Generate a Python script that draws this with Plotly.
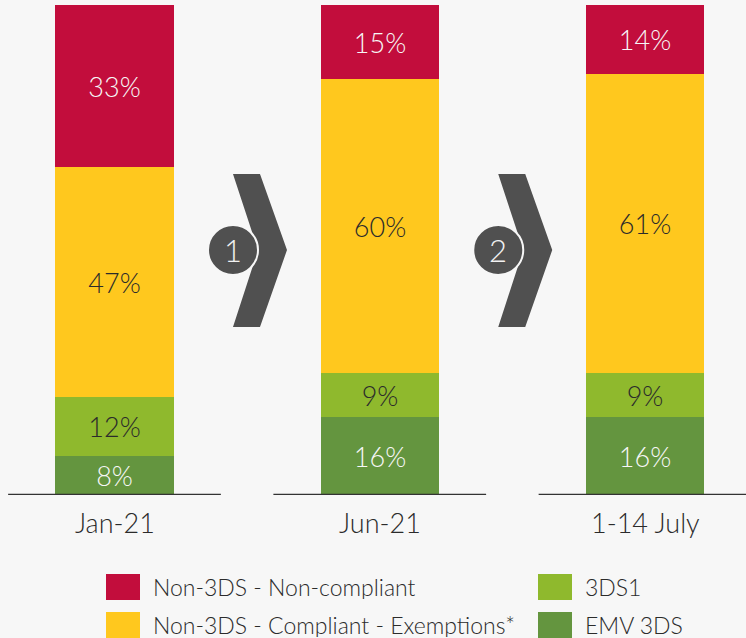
import plotly.graph_objects as go

categories = ["Jan-21", "Jun-21", "1-14 July"]
series_names = ["EMV 3DS", "3DS1", "Non-3DS - Compliant - Exemptions*", "Non-3DS - Non-compliant"]
emv_3ds = [8, 16, 16]
tds1 = [12, 9, 9]
compliant = [47, 60, 61]
non_compliant = [33, 15, 14]
step_labels = ["1", "2"]

series_values = [emv_3ds, tds1, compliant, non_compliant]
colors = ["#64953F", "#8FB92D", "#FFC81E", "#C20D3C"]
text_colors = ["#F7F7F7", "#2B2B2B", "#2B2B2B", "#F7F7F7"]

FONT = "Lato"
W, H = 746, 638
L, R, T, B = 0, 0, 5, 143
PH = H - T - B  # plot height in px
x0px, unit = 114.5, 265.25  # pixel of first category, pixels per category

def px2x(px):
    return (px - x0px) / unit

def py2y(py):
    return (T + PH - py) / PH * 100

def px2paper(px):
    return px / W

def py2paper(py):
    return (T + PH - py) / PH

xs = list(range(len(categories)))
fig = go.Figure()
for name, vals, c, tc in zip(series_names, series_values, colors, text_colors):
    fig.add_trace(go.Bar(
        x=xs, y=vals, name=name, marker=dict(color=c, line=dict(width=0)),
        width=118.5 / unit,
        text=[f"{v}%" for v in vals], textposition="inside",
        insidetextanchor="middle",
        textfont=dict(family=FONT, size=27, color=tc, weight=300),
        hoverinfo="skip", showlegend=False,
    ))

shapes = []
annotations = []
# baselines
for i in xs:
    shapes.append(dict(type="line", xref="x", yref="y", x0=i - 0.401, x1=i + 0.401,
                       y0=0, y1=0, line=dict(color="#333333", width=2.5), layer="above"))
    annotations.append(dict(x=px2paper(x0px + i * unit), y=py2paper(522), xref="paper", yref="paper",
                            text=categories[i], showarrow=False, xanchor="center", yanchor="middle",
                            font=dict(family=FONT, size=27, color="#2B2B2B", weight=300)))

# chevrons with numbered circles
for k, lab in enumerate(step_labels):
    pts = [(233, 174), (260, 174), (287, 250), (260, 327), (233, 327), (258, 250)]
    path = ""
    for j, (px, py) in enumerate(pts):
        path += ("M" if j == 0 else "L") + f"{px2x(px) + k:.4f},{py2y(py):.4f} "
    path += "Z"
    shapes.append(dict(type="path", xref="x", yref="y", path=path,
                       fillcolor="#505050", line=dict(width=0)))
    cx, cy, r = px2x(233) + k, py2y(250), 25
    shapes.append(dict(type="circle", xref="x", yref="y",
                       x0=cx - r / unit, x1=cx + r / unit,
                       y0=cy - r / PH * 100, y1=cy + r / PH * 100,
                       fillcolor="#505050", line=dict(color="#F7F7F7", width=2)))
    annotations.append(dict(x=cx, y=cy, xref="x", yref="y", text=lab, showarrow=False,
                            xanchor="center", yanchor="middle",
                            font=dict(family=FONT, size=31, color="#F2F2F2", weight=300)))

# manual legend
legend_items = [
    (series_names[3], colors[3], 106, 574),
    (series_names[2], colors[2], 106, 612),
    (series_names[1], colors[1], 538, 574),
    (series_names[0], colors[0], 538, 612),
]
for name, c, sx, sy in legend_items:
    shapes.append(dict(type="rect", xref="paper", yref="paper",
                       x0=px2paper(sx), x1=px2paper(sx + 34),
                       y0=py2paper(sy + 26), y1=py2paper(sy),
                       fillcolor=c, line=dict(width=0)))
    annotations.append(dict(x=px2paper(sx + 45), y=py2paper(sy + 13), xref="paper", yref="paper",
                            text=name, showarrow=False, xanchor="left", yanchor="middle",
                            height=24, valign="middle",
                            font=dict(family=FONT, size=23, color="#2B2B2B", weight=300)))

fig.update_layout(
    width=W, height=H,
    margin=dict(l=L, r=R, t=T, b=B),
    paper_bgcolor="#F7F7F7", plot_bgcolor="#F7F7F7",
    barmode="stack", bargap=0,
    xaxis=dict(range=[px2x(0), px2x(W)], visible=False, fixedrange=True),
    yaxis=dict(range=[0, 100], visible=False, fixedrange=True),
    shapes=shapes, annotations=annotations,
    uniformtext=dict(minsize=27, mode="show"),
    showlegend=False,
)
fig.write_html("out.html", config={"displayModeBar": False},
               post_script="document.body.style.margin='0';document.body.style.background='#F7F7F7';")
